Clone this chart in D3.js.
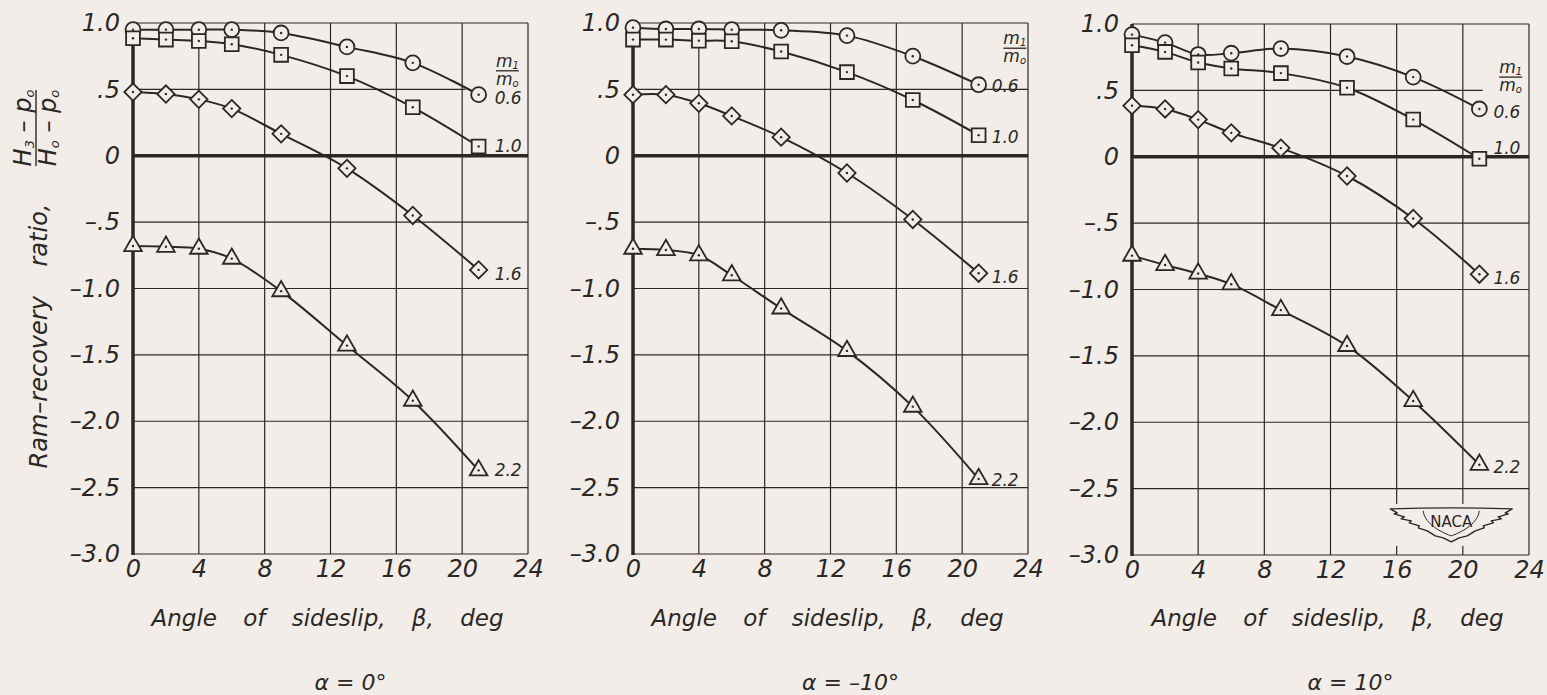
<!DOCTYPE html>
<html>
<head>
<meta charset="utf-8">
<script src="https://cdn.jsdelivr.net/npm/d3@7"></script>
<style>
  html, body { margin: 0; padding: 0; background: #f2ede8; }
  svg { display: block; }
  text { font-family: "DejaVu Sans", sans-serif; font-style: oblique; fill: #2b2724; }
</style>
</head>
<body>
<div id="container"></div>
<script>
// sideslip angles where the data were taken
const beta = [0, 2, 4, 6, 9, 13, 17, 21];
const ratioLabels = ["0.6", "1.0", "1.6", "2.2"];
const shapes = ["circle", "square", "diamond", "triangle"];
const alphaLabels = ["α = 0°", "α = –10°", "α = 10°"];

const xTicks = [0, 4, 8, 12, 16, 20, 24];
const yTicks = [1, 0.5, 0, -0.5, -1, -1.5, -2, -2.5, -3];
const yTickLabels = ["1.0", ".5", "0", "–.5", "–1.0", "–1.5", "–2.0", "–2.5", "–3.0"];

// alpha = 0 deg
const a0_r06 = [0.95, 0.95, 0.95, 0.95, 0.925, 0.82, 0.70, 0.46];
const a0_r10 = [0.885, 0.875, 0.865, 0.84, 0.76, 0.60, 0.365, 0.07];
const a0_r16 = [0.48, 0.465, 0.425, 0.355, 0.165, -0.095, -0.45, -0.86];
const a0_r22 = [-0.68, -0.685, -0.70, -0.775, -1.02, -1.43, -1.845, -2.37];

// alpha = -10 deg
const am10_r06 = [0.965, 0.955, 0.955, 0.95, 0.945, 0.905, 0.75, 0.535];
const am10_r10 = [0.875, 0.875, 0.867, 0.862, 0.785, 0.63, 0.42, 0.155];
const am10_r16 = [0.46, 0.46, 0.395, 0.30, 0.14, -0.13, -0.48, -0.885];
const am10_r22 = [-0.70, -0.71, -0.75, -0.90, -1.15, -1.47, -1.89, -2.435];

// alpha = 10 deg
const a10_r06 = [0.92, 0.86, 0.77, 0.78, 0.815, 0.755, 0.60, 0.36];
const a10_r10 = [0.84, 0.79, 0.71, 0.665, 0.63, 0.52, 0.28, -0.015];
const a10_r16 = [0.385, 0.36, 0.28, 0.18, 0.065, -0.145, -0.465, -0.885];
const a10_r22 = [-0.745, -0.815, -0.88, -0.96, -1.155, -1.425, -1.84, -2.32];

const panelSeries = [
  [a0_r06, a0_r10, a0_r16, a0_r22],
  [am10_r06, am10_r10, am10_r16, am10_r22],
  [a10_r06, a10_r10, a10_r16, a10_r22]
];

// layout of the three panels (pixels) and a few per-panel label nudges
const layout = [
  { left: 133, right: 528, top: 23, bottom: 554, halfEnd: 20.2, legend: [22.05, 0.64], labelDx: 16, labelDy: [3, -1, 4, 0] },
  { left: 633, right: 1028, top: 23, bottom: 554, halfEnd: 24, legend: [22.5, 0.81], labelDx: 13, labelDy: [1, 2, 4, 1] },
  { left: 1132, right: 1529, top: 24, bottom: 555, halfEnd: 21.2, legend: [22.2, 0.6], labelDx: 14, labelDy: [3, -11, 4, 2] }
];

const W = 1547, H = 695;
const bg = "#f2ede8";
const ink = "#2b2724";

const svg = d3.select("#container")
  .append("svg")
  .attr("width", W)
  .attr("height", H)
  .style("background-color", bg);

const symbolFor = {
  circle: d3.symbol().type(d3.symbolCircle).size(175)(),
  square: d3.symbol().type(d3.symbolSquare).size(190)(),
  diamond: d3.symbol().type(d3.symbolSquare).size(150)(),
  triangle: d3.symbol().type(d3.symbolTriangle).size(135)()
};

panelSeries.forEach((series, i) => {
  const p = layout[i];
  const x = d3.scaleLinear().domain([0, 24]).range([p.left, p.right]);
  const y = d3.scaleLinear().domain([-3, 1]).range([p.bottom, p.top]);
  const g = svg.append("g");

  // vertical grid
  g.selectAll(".vgrid")
    .data(xTicks.filter((d) => d > 0))
    .join("line")
    .attr("x1", (d) => x(d))
    .attr("x2", (d) => x(d))
    .attr("y1", y(-3))
    .attr("y2", y(1))
    .attr("stroke", ink)
    .attr("stroke-width", 1.2);

  // horizontal grid (0.5 line stops short near the labels)
  g.selectAll(".hgrid")
    .data(yTicks.filter((d) => d !== 0))
    .join("line")
    .attr("x1", x(0))
    .attr("x2", (d) => (d === 0.5 ? x(p.halfEnd) : x(24)))
    .attr("y1", (d) => y(d))
    .attr("y2", (d) => y(d))
    .attr("stroke", ink)
    .attr("stroke-width", 1.2);

  // heavy zero line and left axis
  g.append("line")
    .attr("x1", x(0)).attr("x2", x(24))
    .attr("y1", y(0)).attr("y2", y(0))
    .attr("stroke", ink).attr("stroke-width", 3.5);
  g.append("line")
    .attr("x1", x(0)).attr("x2", x(0))
    .attr("y1", y(-3) + 1).attr("y2", y(1))
    .attr("stroke", ink).attr("stroke-width", 3.5);

  // NACA logo in the last panel
  if (i === 2) {
    const lx = x(19.3), ly = y(-2.66);
    g.append("rect")
      .attr("x", lx - 66).attr("y", ly - 6)
      .attr("width", 132).attr("height", 42)
      .attr("fill", bg);
    const logo = g.append("g").attr("transform", `translate(${lx},${ly})`);
    logo.append("path")
      .attr("d", "M-61,-1 Q0,-3 61,-1 L54,3 L57,4 L47,7 L50,9 L40,11 L42,13 L32,16 L33,18 L24,21 L16,26 L8,28 L0,32 " +
        "L-8,28 L-16,26 L-24,21 L-33,18 L-32,16 L-42,13 L-40,11 L-50,9 L-47,7 L-57,4 L-54,3 Z")
      .attr("fill", bg)
      .attr("stroke", ink)
      .attr("stroke-width", 1.4)
      .attr("stroke-linejoin", "round");
    logo.append("path")
      .attr("d", "M-28,1 C-27,12 -14,21 0,26 C14,21 27,12 28,1")
      .attr("fill", "none")
      .attr("stroke", ink)
      .attr("stroke-width", 1);
    logo.append("text")
      .attr("x", 0).attr("y", 17)
      .attr("text-anchor", "middle")
      .style("font-style", "normal")
      .style("font-size", "15px")
      .text("NACA");
  }

  const line = d3.line()
    .x((d, j) => x(beta[j]))
    .y((d) => y(d))
    .curve(d3.curveCatmullRom.alpha(0.5));

  series.forEach((vals) => {
    g.append("path")
      .datum(vals)
      .attr("d", line)
      .attr("fill", "none")
      .attr("stroke", ink)
      .attr("stroke-width", 2);
  });

  series.forEach((vals, s) => {
    const pts = g.selectAll(".pt" + s)
      .data(vals)
      .join("g")
      .attr("transform", (d, j) => `translate(${x(beta[j])},${y(d)})`);
    pts.append("path")
      .attr("d", symbolFor[shapes[s]])
      .attr("transform", shapes[s] === "diamond" ? "rotate(45)" : null)
      .attr("fill", bg)
      .attr("stroke", ink)
      .attr("stroke-width", 1.8);
    pts.append("circle")
      .attr("r", 1.2)
      .attr("fill", ink);

    g.append("text")
      .attr("x", x(21) + p.labelDx)
      .attr("y", y(vals[vals.length - 1]) + p.labelDy[s])
      .attr("dy", "0.36em")
      .style("font-size", "17px")
      .text(ratioLabels[s]);
  });

  // m1/m0 legend title
  const lg = g.append("g")
    .attr("transform", `translate(${x(p.legend[0])},${y(p.legend[1])})`);
  const m1 = lg.append("text").attr("x", 0).attr("y", -4).style("font-size", "17px");
  m1.append("tspan").text("m");
  m1.append("tspan").attr("dy", 2).style("font-size", "10px").text("1");
  lg.append("line")
    .attr("x1", 0).attr("x2", 23)
    .attr("y1", 0).attr("y2", 0)
    .attr("stroke", ink).attr("stroke-width", 1.3);
  const m0 = lg.append("text").attr("x", 0).attr("y", 14).style("font-size", "17px");
  m0.append("tspan").text("m");
  m0.append("tspan").attr("dy", 2).style("font-size", "10px").text("o");

  // tick labels
  const yAxis = g.append("g")
    .attr("transform", `translate(${x(0)},0)`)
    .call(d3.axisLeft(y).tickValues(yTicks).tickFormat((d, k) => yTickLabels[k]).tickSize(0).tickPadding(13));
  yAxis.select(".domain").remove();
  yAxis.selectAll("text").style("font-size", "24px");

  const xAxis = g.append("g")
    .attr("transform", `translate(0,${y(-3)})`)
    .call(d3.axisBottom(x).tickValues(xTicks).tickSize(0).tickPadding(6));
  xAxis.select(".domain").remove();
  xAxis.selectAll("text").style("font-size", "24px");

  // axis title and panel caption
  g.append("text")
    .attr("x", (p.left + p.right) / 2 - 3)
    .attr("y", 626)
    .attr("text-anchor", "middle")
    .style("font-size", "23px")
    .style("word-spacing", "19px")
    .text("Angle of sideslip, β, deg");

  g.append("text")
    .attr("x", (p.left + p.right) / 2 + 20)
    .attr("y", 690)
    .attr("text-anchor", "middle")
    .style("font-size", "22px")
    .text(alphaLabels[i]);

  if (i === 0) {
    g.append("text")
      .attr("transform", "translate(47,336) rotate(-90)")
      .attr("text-anchor", "middle")
      .style("font-size", "24px")
      .style("word-spacing", "22px")
      .text("Ram–recovery ratio,");

    const fr = g.append("g").attr("transform", "translate(36,128) rotate(-90)");
    const num = fr.append("text").attr("x", 0).attr("y", -5).attr("text-anchor", "middle").style("font-size", "24px");
    num.append("tspan").text("H");
    num.append("tspan").attr("dy", 3).style("font-size", "13px").text("3");
    num.append("tspan").attr("dy", -3).text(" – p");
    num.append("tspan").attr("dy", 3).style("font-size", "13px").text("o");
    fr.append("line")
      .attr("x1", -38).attr("x2", 38)
      .attr("y1", 0).attr("y2", 0)
      .attr("stroke", ink).attr("stroke-width", 1.4);
    const den = fr.append("text").attr("x", 0).attr("y", 20).attr("text-anchor", "middle").style("font-size", "24px");
    den.append("tspan").text("H");
    den.append("tspan").attr("dy", 3).style("font-size", "13px").text("o");
    den.append("tspan").attr("dy", -3).text(" – p");
    den.append("tspan").attr("dy", 3).style("font-size", "13px").text("o");
  }
});
</script>
</body>
</html>
